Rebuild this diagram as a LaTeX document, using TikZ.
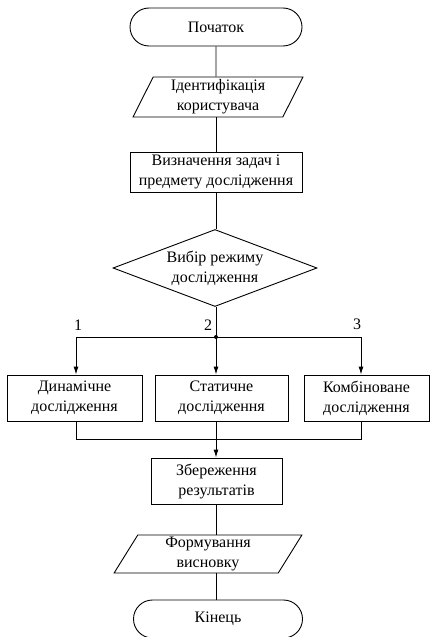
\documentclass[tikz,border=0pt]{standalone}
\usepackage{fontspec}
\setmainfont{Liberation Serif}
\usetikzlibrary{shapes.geometric,shapes.misc,arrows.meta}

\begin{document}
\begin{tikzpicture}
  [x=1pt,y=-1pt,line width=0.9pt,
   font=\fontsize{16}{20}\selectfont,
   every node/.style={align=center,inner sep=0pt},
   term/.style={draw,rounded rectangle,minimum height=38pt},
   io/.style={draw,trapezium,trapezium left angle=67,trapezium right angle=113,
     trapezium stretches=true,minimum height=40pt},
   proc/.style={draw,rectangle,minimum height=46pt},
   choice/.style={draw,diamond,aspect=2.65,minimum width=204pt,minimum height=77pt},
   arr/.style={-{Latex[length=8pt,width=5pt]}}]
\useasboundingbox (0,0) rectangle (431,637);
\path
    (216,27) node [term,minimum width=172pt] (start) {Початок}
    (218,97) node [io,minimum width=170pt] (ident) {Ідентифікація\\користувача}
    (216,172) node [proc,minimum width=172pt,minimum height=40pt] (task)
        {Визначення задач і\\предмету дослідження}
    (215,268) node [choice] (mode) {Вибір режиму\\дослідження}
    (216,337) coordinate (split)
    (76,337) coordinate (left)
    (361,337) coordinate (right)
    (74.5,398) node [proc,minimum width=135pt] (dyn) {Динамічне\\дослідження}
    (221.5,398) node [proc,minimum width=133pt] (stat) {Статичне\\дослідження}
    (366.5,398) node [proc,minimum width=125pt] (comb) {Комбіноване\\дослідження}
    (216,439) coordinate (merge)
    (216.5,481) node [proc,minimum width=131pt] (save) {Збереження\\результатів}
    (208,554) node [io,minimum width=188pt,minimum height=38pt] (concl)
        {Формування\\висновку}
    (218,619) node [term,minimum width=169pt] (finish) {Кінець};

% main column
\draw (start) -- (split |- ident.north);
\draw (split |- ident.south) -- (task);
\draw (task) -- (split |- mode.north);
\draw (split |- mode.south) -- (split);
\fill (split) circle (2);

% branches
\draw (left) -- (right);
\draw [arr] (left) -- (left |- dyn.north);
\draw [arr] (split) -- (split |- stat.north);
\draw [arr] (right) -- (right |- comb.north);
\path
    (left) +(2,-12) node {1}
    (split) +(-8,-12) node {2}
    (right) +(-4,-13) node {3};

% join
\draw (left |- dyn.south) -- (left |- merge) -- (right |- merge) -- (right |- comb.south);
\draw (split |- stat.south) -- (merge);
\draw [arr] (merge) -- (split |- save.north);
\draw (split |- save.south) -- (split |- concl.north);
\draw (split |- concl.south) -- (split |- finish.north);
\end{tikzpicture}
\end{document}
